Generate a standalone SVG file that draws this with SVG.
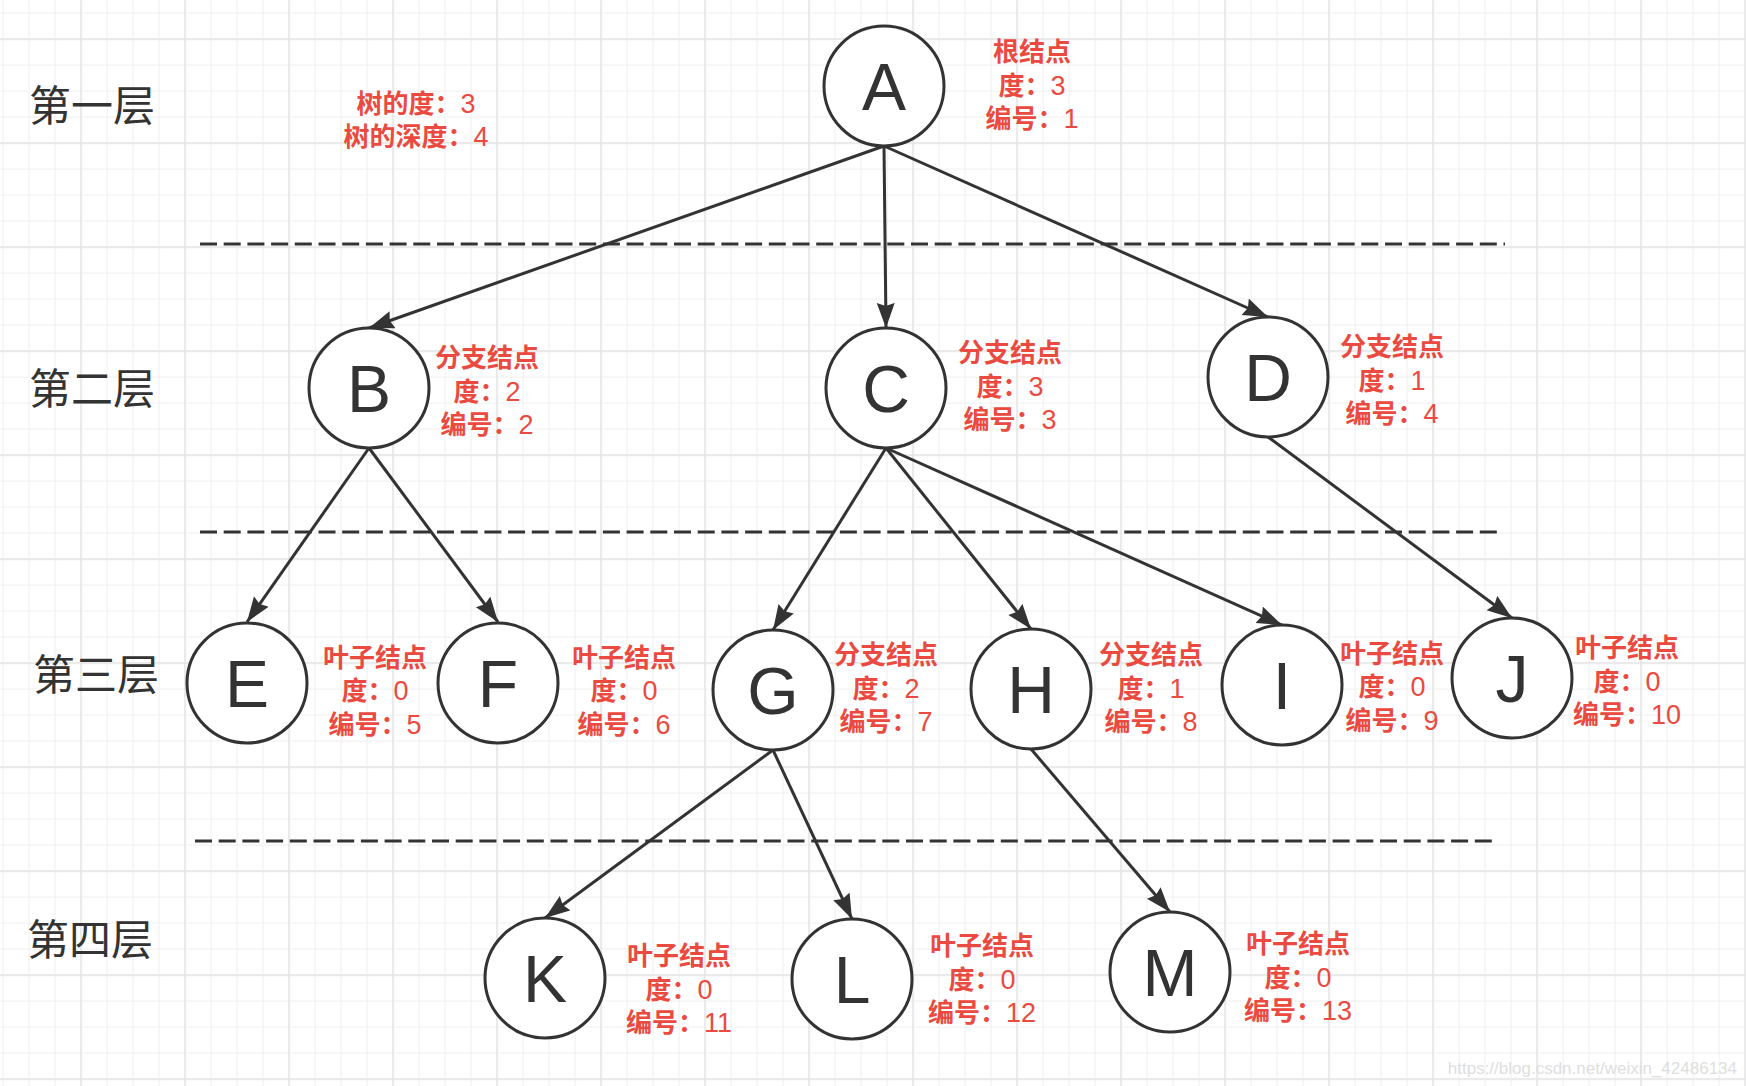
<svg xmlns="http://www.w3.org/2000/svg" width="1746" height="1086" viewBox="0 0 1746 1086">
  <style>
    .node circle { fill: #ffffff; stroke: #333333; stroke-width: 3; }
    .node .letter { font-family: "Liberation Sans", Arial, sans-serif; font-size: 66px; fill: #333333; text-anchor: middle; }
    .lbl { font-family: "Liberation Sans", "Noto Sans CJK SC", sans-serif; font-size: 26px; font-weight: bold; fill: #ea4a40; text-anchor: middle; }
    .n { font-weight: normal; font-size: 27px; }
    .layer { font-family: "Noto Sans CJK SC", sans-serif; font-size: 42px; fill: #333333; text-anchor: middle; }
    .edge { stroke: #333333; stroke-width: 3; fill: none; marker-end: url(#arrow); }
    .sep { stroke: #333333; stroke-width: 3; stroke-dasharray: 17 6.7; fill: none; }
    .wm { font-family: "Liberation Sans", Arial, sans-serif; font-size: 17px; fill: #dedede; text-anchor: end; }
  </style>
  <defs>
    <pattern id="minor" x="2.5" y="12.5" width="26" height="26" patternUnits="userSpaceOnUse">
      <rect x="0" y="0" width="26" height="1.2" fill="#f0f0f0"/>
      <rect x="0" y="0" width="1.2" height="26" fill="#f0f0f0"/>
    </pattern>
    <pattern id="major" x="80.25" y="38.25" width="104" height="104" patternUnits="userSpaceOnUse">
      <rect x="0" y="0" width="104" height="1.5" fill="#e5e5e5"/>
      <rect x="0" y="0" width="1.5" height="104" fill="#e5e5e5"/>
    </pattern>
    <marker id="arrow" markerUnits="userSpaceOnUse" markerWidth="26" markerHeight="20" refX="25" refY="9" orient="auto">
      <path d="M0,0 L25,9 L0,18 L3,9 Z" fill="#333333"/>
    </marker>
  </defs>

  <rect x="0" y="0" width="1746" height="1086" fill="#ffffff"/>
  <rect x="0" y="0" width="1746" height="1086" fill="url(#minor)"/>
  <rect x="0" y="0" width="1746" height="1086" fill="url(#major)"/>

  <g id="separators">
    <line class="sep" x1="200" y1="244" x2="1505" y2="244"/>
    <line class="sep" x1="200" y1="532" x2="1503" y2="532"/>
    <line class="sep" x1="195" y1="841" x2="1498" y2="841"/>
  </g>

  <g id="layers">
    <text class="layer" x="92" y="121">第一层</text>
    <text class="layer" x="92" y="404">第二层</text>
    <text class="layer" x="96" y="690">第三层</text>
    <text class="layer" x="90" y="955">第四层</text>
  </g>

  <g id="tree-info">
    <text class="lbl" x="416" y="113">树的度：<tspan class="n">3</tspan></text>
    <text class="lbl" x="416" y="146">树的深度：<tspan class="n">4</tspan></text>
  </g>

  <g id="connectors">
    <line class="edge" x1="884" y1="146" x2="369" y2="328"/>
    <line class="edge" x1="884" y1="146" x2="886" y2="328"/>
    <line class="edge" x1="884" y1="146" x2="1268" y2="317"/>
    <line class="edge" x1="369" y1="448" x2="247" y2="622"/>
    <line class="edge" x1="369" y1="448" x2="498" y2="622"/>
    <line class="edge" x1="886" y1="448" x2="773" y2="630"/>
    <line class="edge" x1="886" y1="448" x2="1031" y2="629"/>
    <line class="edge" x1="886" y1="448" x2="1282" y2="625"/>
    <line class="edge" x1="1268" y1="437" x2="1512" y2="618"/>
    <line class="edge" x1="773" y1="750" x2="545" y2="918"/>
    <line class="edge" x1="773" y1="750" x2="852" y2="919"/>
    <line class="edge" x1="1031" y1="749" x2="1170" y2="912"/>
  </g>

  <g id="node-A" class="node">
    <circle cx="884" cy="86" r="60"/>
    <text class="letter" x="884" y="110">A</text>
    <text class="lbl" x="1032" y="60.5">根结点</text>
    <text class="lbl" x="1032" y="94.5">度：<tspan class="n">3</tspan></text>
    <text class="lbl" x="1032" y="128">编号：<tspan class="n">1</tspan></text>
  </g>
  <g id="node-B" class="node">
    <circle cx="369" cy="388" r="60"/>
    <text class="letter" x="369" y="412">B</text>
    <text class="lbl" x="487" y="367">分支结点</text>
    <text class="lbl" x="487" y="400.5">度：<tspan class="n">2</tspan></text>
    <text class="lbl" x="487" y="434">编号：<tspan class="n">2</tspan></text>
  </g>
  <g id="node-C" class="node">
    <circle cx="886" cy="388" r="60"/>
    <text class="letter" x="886" y="412">C</text>
    <text class="lbl" x="1010" y="361.5">分支结点</text>
    <text class="lbl" x="1010" y="395.5">度：<tspan class="n">3</tspan></text>
    <text class="lbl" x="1010" y="429">编号：<tspan class="n">3</tspan></text>
  </g>
  <g id="node-D" class="node">
    <circle cx="1268" cy="377" r="60"/>
    <text class="letter" x="1268" y="401">D</text>
    <text class="lbl" x="1392" y="356">分支结点</text>
    <text class="lbl" x="1392" y="389.5">度：<tspan class="n">1</tspan></text>
    <text class="lbl" x="1392" y="423">编号：<tspan class="n">4</tspan></text>
  </g>
  <g id="node-E" class="node">
    <circle cx="247" cy="683" r="60"/>
    <text class="letter" x="247" y="707">E</text>
    <text class="lbl" x="375" y="666.5">叶子结点</text>
    <text class="lbl" x="375" y="700">度：<tspan class="n">0</tspan></text>
    <text class="lbl" x="375" y="733.5">编号：<tspan class="n">5</tspan></text>
  </g>
  <g id="node-F" class="node">
    <circle cx="498" cy="683" r="60"/>
    <text class="letter" x="498" y="707">F</text>
    <text class="lbl" x="624" y="666.5">叶子结点</text>
    <text class="lbl" x="624" y="700">度：<tspan class="n">0</tspan></text>
    <text class="lbl" x="624" y="733.5">编号：<tspan class="n">6</tspan></text>
  </g>
  <g id="node-G" class="node">
    <circle cx="773" cy="690" r="60"/>
    <text class="letter" x="773" y="714">G</text>
    <text class="lbl" x="886" y="664">分支结点</text>
    <text class="lbl" x="886" y="697.5">度：<tspan class="n">2</tspan></text>
    <text class="lbl" x="886" y="731">编号：<tspan class="n">7</tspan></text>
  </g>
  <g id="node-H" class="node">
    <circle cx="1031" cy="689" r="60"/>
    <text class="letter" x="1031" y="713">H</text>
    <text class="lbl" x="1151" y="664">分支结点</text>
    <text class="lbl" x="1151" y="697.5">度：<tspan class="n">1</tspan></text>
    <text class="lbl" x="1151" y="731">编号：<tspan class="n">8</tspan></text>
  </g>
  <g id="node-I" class="node">
    <circle cx="1282" cy="685" r="60"/>
    <text class="letter" x="1282" y="709">I</text>
    <text class="lbl" x="1392" y="662.5">叶子结点</text>
    <text class="lbl" x="1392" y="696">度：<tspan class="n">0</tspan></text>
    <text class="lbl" x="1392" y="729.5">编号：<tspan class="n">9</tspan></text>
  </g>
  <g id="node-J" class="node">
    <circle cx="1512" cy="678" r="60"/>
    <text class="letter" x="1512" y="702">J</text>
    <text class="lbl" x="1627" y="657">叶子结点</text>
    <text class="lbl" x="1627" y="690.5">度：<tspan class="n">0</tspan></text>
    <text class="lbl" x="1627" y="724">编号：<tspan class="n">10</tspan></text>
  </g>
  <g id="node-K" class="node">
    <circle cx="545" cy="978" r="60"/>
    <text class="letter" x="545" y="1002">K</text>
    <text class="lbl" x="679" y="965">叶子结点</text>
    <text class="lbl" x="679" y="998.5">度：<tspan class="n">0</tspan></text>
    <text class="lbl" x="679" y="1032">编号：<tspan class="n">11</tspan></text>
  </g>
  <g id="node-L" class="node">
    <circle cx="852" cy="979" r="60"/>
    <text class="letter" x="852" y="1003">L</text>
    <text class="lbl" x="982" y="955">叶子结点</text>
    <text class="lbl" x="982" y="988.5">度：<tspan class="n">0</tspan></text>
    <text class="lbl" x="982" y="1022">编号：<tspan class="n">12</tspan></text>
  </g>
  <g id="node-M" class="node">
    <circle cx="1170" cy="972" r="60"/>
    <text class="letter" x="1170" y="996">M</text>
    <text class="lbl" x="1298" y="953">叶子结点</text>
    <text class="lbl" x="1298" y="986.5">度：<tspan class="n">0</tspan></text>
    <text class="lbl" x="1298" y="1020">编号：<tspan class="n">13</tspan></text>
  </g>

  <text class="wm" x="1737" y="1074">https://blog.csdn.net/weixin_42486134</text>
</svg>
